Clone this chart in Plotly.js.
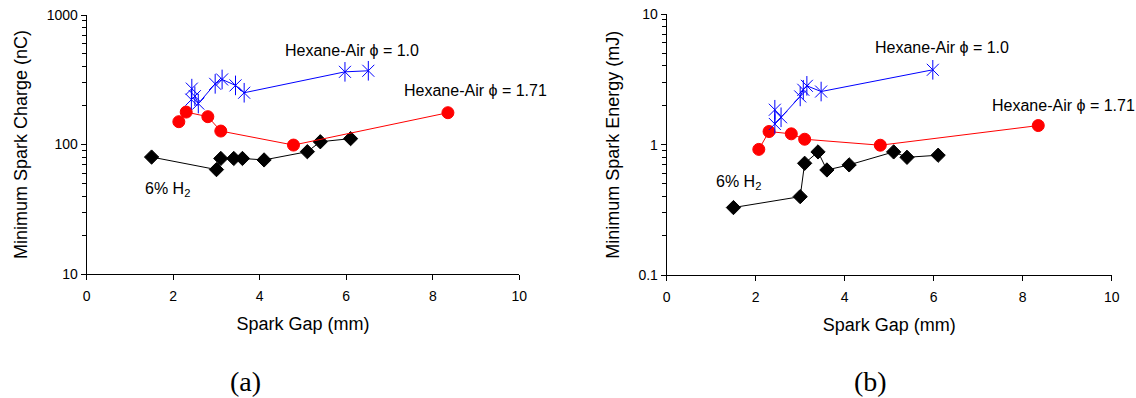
<!DOCTYPE html>
<html>
<head>
<meta charset="utf-8">
<script src="https://cdn.plot.ly/plotly-3.0.1.min.js"></script>
<style>html,body{margin:0;padding:0;background:#fff;}#chart{width:1136px;height:398px;}</style>
</head>
<body>
<div id="chart"></div>
<script>
// ---- Data (a): Minimum Spark Charge (nC) vs Spark Gap (mm)
var h2GapA      = [1.5, 3.0, 3.1, 3.4, 3.6, 4.1, 5.1, 5.4, 6.1];
var h2ChargeA   = [80, 64, 78, 78, 78, 76, 88, 105, 111];
var hex171GapA  = [2.13, 2.3, 2.8, 3.1, 4.78, 8.35];
var hex171ChargeA = [150, 178, 164, 127, 99, 176];
var hex10GapA   = [2.43, 2.42, 2.5, 2.58, 2.97, 3.13, 3.44, 3.64, 5.97, 6.51];
var hex10ChargeA = [270, 222, 236, 207, 294, 318, 286, 251, 364, 371];

// ---- Data (b): Minimum Spark Energy (mJ) vs Spark Gap (mm)
var h2GapB      = [1.5, 3.0, 3.1, 3.4, 3.6, 4.1, 5.1, 5.4, 6.1];
var h2EnergyB   = [0.33, 0.40, 0.72, 0.88, 0.64, 0.70, 0.88, 0.80, 0.83];
var hex171GapB  = [2.07, 2.3, 2.8, 3.1, 4.8, 8.35];
var hex171EnergyB = [0.92, 1.26, 1.21, 1.10, 0.99, 1.40];
var hex10GapB   = [2.43, 2.43, 2.57, 3.0, 3.07, 3.15, 3.47, 5.98];
var hex10EnergyB = [1.85, 1.44, 1.62, 2.34, 2.63, 2.82, 2.55, 3.74];

var xTicks = [0, 2, 4, 6, 8, 10];
var yTicksA = [10, 100, 1000];
var yTicksB = [0.1, 1, 10];

function minorLog(lo, hi) {
  var out = [];
  for (var d = lo; d < hi; d *= 10) {
    for (var k = 2; k <= 9; k++) out.push(d * k);
  }
  return out;
}

var FONT = 'Liberation Sans, Arial, sans-serif';

function series(x, y, color, sym, size, xa, ya, withLine) {
  return {
    x: x, y: y, xaxis: xa, yaxis: ya, type: 'scatter',
    mode: withLine ? 'lines+markers' : 'markers',
    line: {color: color, width: 1},
    marker: {symbol: sym, size: size, color: color, line: {color: color, width: 1}},
    showlegend: false, hoverinfo: 'x+y'
  };
}

var traces = [
  series(h2GapA, h2ChargeA, '#000000', 'diamond', 11, 'x', 'y', true),
  series(hex171GapA, hex171ChargeA, '#ff0000', 'circle', 12, 'x', 'y', true),
  series(hex10GapA, hex10ChargeA, '#0000ff', 'x-thin-open', 12, 'x', 'y', true),
  series(hex10GapA, hex10ChargeA, '#0000ff', 'line-ns-open', 14, 'x', 'y', false),
  series(h2GapB, h2EnergyB, '#000000', 'diamond', 11, 'x2', 'y2', true),
  series(hex171GapB, hex171EnergyB, '#ff0000', 'circle', 12, 'x2', 'y2', true),
  series(hex10GapB, hex10EnergyB, '#0000ff', 'x-thin-open', 12, 'x2', 'y2', true),
  series(hex10GapB, hex10EnergyB, '#0000ff', 'line-ns-open', 14, 'x2', 'y2', false)
];

var W = 1136, H = 398;
function px(x) { return x / W; }
function py(y) { return 1 - y / H; }

function xAxis(domain, anchor) {
  return {
    domain: domain, anchor: anchor, range: [0, 10],
    tickmode: 'array', tickvals: xTicks, ticktext: xTicks.map(String),
    showline: true, linecolor: '#000', linewidth: 1, mirror: false,
    ticks: 'outside', ticklen: 5, tickcolor: '#000', tickwidth: 1,
    ticklabelstandoff: 4,
    showgrid: false, zeroline: false, automargin: false,
    tickfont: {family: FONT, size: 14, color: '#000'},
    title: {text: 'Spark Gap (mm)', font: {family: FONT, size: 18, color: '#000'}, standoff: 14}
  };
}
function yAxis(domain, anchor, range, ticks, minor, titleText) {
  return {
    domain: domain, anchor: anchor, type: 'log', range: range,
    tickmode: 'array', tickvals: ticks, ticktext: ticks.map(String),
    showline: true, linecolor: '#000', linewidth: 1,
    ticks: 'outside', ticklen: 5, tickcolor: '#000', tickwidth: 1,
    minor: {tickmode: 'array', tickvals: minor, ticks: 'outside', ticklen: 4, tickcolor: '#000', tickwidth: 1, showgrid: false},
    showgrid: false, zeroline: false, automargin: false,
    tickfont: {family: FONT, size: 14, color: '#000'},
    title: {text: titleText, font: {family: FONT, size: 18, color: '#000'}, standoff: 14}
  };
}

var ann = function (text, x, y, size, fam) {
  return {text: text, xref: 'paper', yref: 'paper', x: px(x), y: py(y),
          xanchor: 'left', yanchor: 'middle', showarrow: false,
          font: {family: fam || FONT, size: size, color: '#000'}};
};
var annC = function (text, x, y, size, fam) {
  var a = ann(text, x, y, size, fam); a.xanchor = 'center'; return a;
};

var layout = {
  width: W, height: H,
  margin: {l: 0, r: 0, t: 0, b: 0},
  paper_bgcolor: '#fff', plot_bgcolor: '#fff',
  font: {family: FONT, color: '#000'},
  xaxis: xAxis([px(86.7), px(519.3)], 'y'),
  yaxis: yAxis([py(274), py(15)], 'x', [1, 3], yTicksA, minorLog(10, 1000), 'Minimum Spark Charge (nC)'),
  xaxis2: xAxis([px(666.7), px(1111.7)], 'y2'),
  yaxis2: yAxis([py(275.3), py(14)], 'x2', [-1, 1], yTicksB, minorLog(0.1, 10), 'Minimum Spark Energy (mJ)'),
  annotations: [
    ann('Hexane-Air ϕ = 1.0', 283, 50.7, 16),
    ann('Hexane-Air ϕ = 1.71', 402, 91, 16),
    ann('6% H<sub>2</sub>', 143, 189, 16),
    ann('Hexane-Air ϕ = 1.0', 873, 47.7, 16),
    ann('Hexane-Air ϕ = 1.71', 990, 106, 16),
    ann('6% H<sub>2</sub>', 714, 182, 16),
    annC('(a)', 245, 381, 28, 'Liberation Serif, Times New Roman, serif'),
    annC('(b)', 870, 381, 28, 'Liberation Serif, Times New Roman, serif')
  ]
};

Plotly.newPlot('chart', traces, layout, {displayModeBar: false, staticPlot: true});
</script>
</body>
</html>
